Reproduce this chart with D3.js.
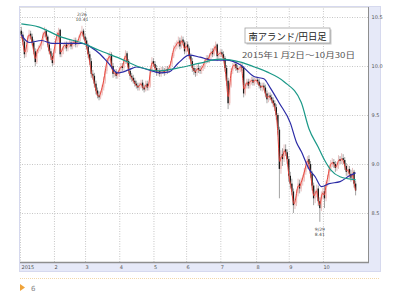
<!DOCTYPE html>
<html>
<head>
<meta charset="utf-8">
<script src="https://cdn.jsdelivr.net/npm/d3@7"></script>
<style>
body { margin: 0; background: #fff; }
svg { display: block; }
.jp { font-family: "Noto Sans CJK JP", "Noto Sans CJK SC", "Noto Sans", sans-serif; }
</style>
</head>
<body>
<div id="chart"></div>
<script>
// ZAR/JPY daily candles, 2015-01-02 .. 2015-10-30 (one value per trading day)
var firstOpen = 10.36;
var closes = [10.32,
    10.25,10.12,10.16,10.28,10.33,
    10.30,10.24,10.15,10.04,10.15,
    10.18,10.20,10.24,10.32,10.36,
    10.30,10.22,10.15,10.10,10.03,
    10.15,10.25,10.32,10.37,10.12,
    10.15,10.20,10.22,10.18,10.22,
    10.24,10.20,10.23,10.26,10.22,
    10.24,10.28,10.33,10.36,10.30,
    10.26,10.20,10.12,10.05,9.92,
    9.90,9.82,9.75,9.70,9.68,
    9.72,9.78,9.85,9.95,10.05,
    10.08,10.12,10.00,9.92,9.94,
    9.90,9.92,9.96,10.00,9.98,
    10.05,10.13,10.05,9.95,9.90,
    9.88,9.85,9.82,9.80,9.78,
    9.80,9.83,9.78,9.76,9.82,
    9.78,9.80,9.95,10.05,10.02,
    9.98,9.93,9.95,9.92,9.96,
    9.95,9.93,9.97,9.95,9.98,
    10.02,10.10,10.18,10.20,10.22,
    10.26,10.20,10.27,10.24,10.15,
    10.22,10.18,10.10,10.05,9.98,
    9.95,9.93,9.98,9.96,9.95,
    9.98,10.00,10.05,10.08,10.06,
    10.10,10.15,10.12,10.18,10.22,
    10.10,10.12,10.14,10.12,10.08,
    9.98,9.85,9.62,9.80,9.95,
    10.00,10.02,9.98,9.96,9.97,
    10.00,9.98,9.72,9.80,9.84,
    9.80,9.84,9.86,9.83,9.85,
    9.86,9.84,9.80,9.78,9.80,
    9.78,9.72,9.66,9.70,9.68,
    9.65,9.62,9.58,9.50,9.35,
    8.95,9.10,9.05,9.15,9.12,
    9.05,8.88,8.80,8.72,8.58,
    8.60,8.70,8.80,8.75,8.82,
    8.85,8.92,8.98,9.05,9.00,
    8.90,8.78,8.65,8.70,8.75,
    8.62,8.55,8.68,8.72,8.65,
    8.80,8.85,8.95,9.00,9.02,
    9.00,8.96,8.98,9.05,9.03,
    9.06,9.04,8.98,8.92,8.95,
    8.90,8.86,8.92,8.80,8.73];

var highs = [10.40,
    10.35,10.27,10.19,10.31,10.37,
    10.36,10.33,10.27,10.18,10.17,
    10.21,10.23,10.27,10.35,10.40,
    10.38,10.32,10.25,10.18,10.13,
    10.17,10.28,10.35,10.39,10.38,
    10.18,10.23,10.25,10.25,10.25,
    10.27,10.27,10.26,10.29,10.29,
    10.27,10.31,10.36,10.41,10.38,
    10.33,10.29,10.23,10.15,10.08,
    9.96,9.93,9.85,9.78,9.74,
    9.75,9.81,9.89,9.98,10.08,
    10.12,10.15,10.14,10.03,9.97,
    9.97,9.95,9.99,10.03,10.03,
    10.08,10.16,10.15,10.07,9.98,
    9.93,9.91,9.88,9.85,9.83,
    9.83,9.86,9.86,9.81,9.85,
    9.85,9.83,9.98,10.09,10.08,
    10.05,10.01,9.98,9.98,9.99,
    9.99,9.98,10.00,10.00,10.01,
    10.05,10.13,10.21,10.24,10.26,
    10.30,10.29,10.31,10.30,10.26,
    10.25,10.25,10.20,10.13,10.08,
    10.01,9.98,10.01,10.02,10.00,
    10.01,10.03,10.08,10.11,10.11,
    10.13,10.18,10.18,10.21,10.25,
    10.23,10.15,10.17,10.17,10.15,
    10.10,10.01,9.88,9.83,9.98,
    10.03,10.05,10.05,10.01,10.00,
    10.03,10.03,10.00,9.83,9.87,
    9.87,9.87,9.89,9.89,9.88,
    9.89,9.89,9.87,9.83,9.83,
    9.83,9.81,9.75,9.73,9.73,
    9.71,9.68,9.65,9.61,9.52,
    9.38,9.14,9.16,9.20,9.20,
    9.15,9.08,8.92,8.85,8.75,
    8.65,8.74,8.85,8.84,8.86,
    8.89,8.96,9.02,9.08,9.09,
    9.03,8.93,8.81,8.74,8.79,
    8.78,8.66,8.72,8.76,8.78,
    8.83,8.89,8.99,9.04,9.06,
    9.05,9.03,9.02,9.09,9.08,
    9.11,9.10,9.07,9.01,8.99,
    8.98,8.94,8.96,8.94,8.83];

var lows = [10.28,
    10.21,10.08,10.09,10.14,10.25,
    10.27,10.21,10.12,10.00,10.02,
    10.13,10.15,10.17,10.21,10.29,
    10.27,10.19,10.12,10.06,10.00,
    10.01,10.13,10.22,10.29,10.09,
    10.09,10.12,10.17,10.15,10.15,
    10.19,10.17,10.17,10.20,10.19,
    10.19,10.21,10.25,10.30,10.27,
    10.22,10.17,10.08,10.01,9.88,
    9.86,9.78,9.71,9.67,9.65,
    9.66,9.70,9.75,9.82,9.92,
    10.02,10.05,9.97,9.88,9.89,
    9.87,9.87,9.89,9.93,9.95,
    9.95,10.02,10.02,9.92,9.86,
    9.84,9.82,9.79,9.77,9.75,
    9.75,9.77,9.75,9.73,9.74,
    9.75,9.75,9.78,9.93,9.99,
    9.95,9.90,9.90,9.89,9.89,
    9.92,9.90,9.91,9.92,9.93,
    9.96,10.00,10.08,10.15,10.17,
    10.19,10.17,10.18,10.21,10.12,
    10.13,10.15,10.07,10.01,9.94,
    9.91,9.89,9.90,9.93,9.92,
    9.92,9.95,9.97,10.02,10.03,
    10.03,10.07,10.09,10.10,10.15,
    10.05,10.07,10.09,10.09,10.05,
    9.94,9.80,9.56,9.60,9.78,
    9.92,9.97,9.95,9.93,9.93,
    9.94,9.95,9.68,9.70,9.77,
    9.77,9.77,9.81,9.80,9.80,
    9.82,9.81,9.77,9.75,9.74,
    9.75,9.68,9.62,9.63,9.65,
    9.62,9.58,9.54,9.45,9.30,
    8.65,8.90,8.98,9.02,9.08,
    9.00,8.82,8.75,8.68,8.50,
    8.54,8.57,8.67,8.70,8.72,
    8.78,8.82,8.89,8.95,8.96,
    8.86,8.73,8.58,8.60,8.66,
    8.57,8.41,8.52,8.64,8.55,
    8.62,8.77,8.82,8.92,8.97,
    8.96,8.92,8.93,8.95,9.00,
    9.00,9.00,8.94,8.88,8.87,
    8.86,8.82,8.83,8.76,8.68];

// moving averages
var ma25 = [
    ["2015-01-02",10.32],["2015-01-09",10.24],["2015-01-21",10.26],["2015-01-30",10.23],
    ["2015-02-11",10.23],["2015-02-26",10.23],["2015-03-06",10.19],["2015-03-13",10.13],
    ["2015-03-23",10.03],["2015-03-31",9.93],["2015-04-09",9.96],["2015-04-16",9.99],
    ["2015-04-28",9.96],["2015-05-07",9.93],["2015-05-15",9.94],["2015-05-25",10.03],
    ["2015-06-03",10.11],["2015-06-12",10.09],["2015-06-24",10.06],["2015-07-07",10.06],
    ["2015-07-20",10.01],["2015-07-31",9.89],["2015-08-10",9.87],["2015-08-14",9.78],
    ["2015-08-24",9.62],["2015-09-02",9.42],["2015-09-08",9.22],["2015-09-11",9.13],
    ["2015-09-18",8.95],["2015-09-24",8.87],["2015-09-30",8.77],["2015-10-07",8.80],
    ["2015-10-16",8.82],["2015-10-26",8.88],["2015-10-30",8.91]
];
var ma75 = [
    ["2015-01-02",10.43],["2015-01-19",10.40],["2015-02-06",10.30],["2015-02-27",10.23],
    ["2015-03-13",10.16],["2015-04-01",10.08],["2015-04-20",9.99],["2015-05-07",9.95],
    ["2015-05-25",9.98],["2015-06-12",10.03],["2015-07-01",10.07],["2015-07-20",10.04],
    ["2015-07-31",9.99],["2015-08-12",9.94],["2015-08-27",9.84],["2015-09-11",9.63],
    ["2015-09-18",9.36],["2015-09-28",9.17],["2015-10-02",9.04],["2015-10-08",8.94],
    ["2015-10-16",8.87],["2015-10-30",8.84]
];

var yTicks = [10.5, 10.0, 9.5, 9.0, 8.5];
var monthLabels = ["2015", "2", "3", "4", "5", "6", "7", "8", "9", "10"];
var title = "南アランド/円日足";
var subtitle = "2015年1 月2日〜10月30日";
var pageNo = "6";

var W = 400, H = 300;
var plot = {left: 20, right: 368, top: 7, bottom: 262};

var dates = d3.timeDay.range(new Date(2015, 0, 2), new Date(2015, 9, 31))
    .filter(d => d.getDay() !== 0 && d.getDay() !== 6);
var key = d3.timeFormat("%Y-%m-%d");
var indexOf = {};
dates.forEach((d, i) => { indexOf[key(d)] = i; });

var n = Math.min(dates.length, closes.length, highs.length, lows.length);
var candles = [];
for (var i = 0; i < n; i++) {
    candles.push({i: i, o: i === 0 ? firstOpen : closes[i - 1], h: highs[i], l: lows[i], c: closes[i]});
}

var monthStarts = [];
for (var k = 0; k < n; k++) {
    if (k === 0 || dates[k].getMonth() !== dates[k - 1].getMonth()) monthStarts.push(k);
}

var xScale = d3.scaleLinear().domain([0, 215]).range([21.3, 355.6]);
var yScale = d3.scaleLinear().domain([8, 10.5]).range([plot.bottom, 17]);

var svg = d3.select("#chart").append("svg")
    .attr("width", W).attr("height", H)
    .style("font-family", "'DejaVu Sans', sans-serif");

// frame
svg.append("rect")
    .attr("x", 19.5).attr("y", 6.5).attr("width", 361).attr("height", 265)
    .attr("fill", "#e6e9f8").attr("stroke", "#d6d9ee");
svg.append("rect")
    .attr("x", plot.left).attr("y", plot.top)
    .attr("width", plot.right - plot.left).attr("height", plot.bottom - plot.top)
    .attr("fill", "#fff");

// grid
var gy = svg.append("g")
    .attr("transform", "translate(" + plot.right + ",0)")
    .call(d3.axisLeft(yScale).tickValues(yTicks).tickSize(plot.right - plot.left).tickFormat(""));
var gx = svg.append("g")
    .attr("transform", "translate(0," + plot.bottom + ")")
    .call(d3.axisTop(xScale).tickValues(monthStarts.slice(1)).tickSize(plot.bottom - plot.top).tickFormat(""));
[gx, gy].forEach(g => {
    g.select(".domain").remove();
    g.selectAll("line").attr("stroke", "#b8b8b8").attr("stroke-dasharray", "1,1.5").attr("stroke-width", 0.8);
});
svg.append("line")
    .attr("x1", plot.left + 0.5).attr("x2", plot.left + 0.5)
    .attr("y1", plot.top).attr("y2", plot.bottom)
    .attr("stroke", "#c8c8c8").attr("stroke-dasharray", "1,1.5");
svg.append("line")
    .attr("x1", plot.left).attr("x2", plot.right)
    .attr("y1", plot.top + 0.5).attr("y2", plot.top + 0.5)
    .attr("stroke", "#e2e2e2");

// candles
var cg = svg.append("g");
cg.selectAll(".wick").data(candles).enter().append("line")
    .attr("x1", d => xScale(d.i)).attr("x2", d => xScale(d.i))
    .attr("y1", d => yScale(d.h)).attr("y2", d => yScale(d.l))
    .attr("stroke", d => d.c >= d.o ? "#e0b0b0" : "#8c8c8c")
    .attr("stroke-width", 0.8);
cg.selectAll(".body").data(candles).enter().append("rect")
    .attr("x", d => xScale(d.i) - 0.7)
    .attr("width", 1.4)
    .attr("y", d => yScale(Math.max(d.o, d.c)))
    .attr("height", d => Math.max(0.6, Math.abs(yScale(d.o) - yScale(d.c))))
    .attr("fill", d => d.c >= d.o ? "#f3bdb8" : "#1a1a1a");

// lines
var closeLine = d3.line()
    .x(d => xScale(d.i))
    .y(d => yScale(d.c))
    .curve(d3.curveBasis);
svg.append("path").datum(candles)
    .attr("fill", "none").attr("stroke", "#e8453c").attr("stroke-width", 1)
    .attr("d", closeLine);

var maLine = d3.line()
    .x(d => xScale(indexOf[d[0]]))
    .y(d => yScale(d[1]))
    .curve(d3.curveMonotoneX);
svg.append("path").datum(ma25)
    .attr("fill", "none").attr("stroke", "#2b2ba6").attr("stroke-width", 1.2)
    .attr("d", maLine);
svg.append("path").datum(ma75)
    .attr("fill", "none").attr("stroke", "#1b9988").attr("stroke-width", 1.2)
    .attr("d", maLine);

// plot border
svg.append("line")
    .attr("x1", plot.right + 0.5).attr("x2", plot.right + 0.5)
    .attr("y1", plot.top).attr("y2", plot.bottom + 1)
    .attr("stroke", "#8e8e8e");
svg.append("line")
    .attr("x1", plot.left).attr("x2", plot.right + 1)
    .attr("y1", plot.bottom + 0.5).attr("y2", plot.bottom + 0.5)
    .attr("stroke", "#8e8e8e").attr("stroke-width", 1.5);

// axis labels
svg.append("g").selectAll("text").data(yTicks).enter().append("text")
    .attr("x", plot.right + 3.5)
    .attr("y", d => yScale(d) + 2)
    .style("font-size", "5px").attr("fill", "#555")
    .text(d => d.toFixed(1));
svg.append("g").selectAll("text").data(monthStarts).enter().append("text")
    .attr("x", (d, i) => i === 0 ? plot.left + 1.5 : xScale(d) + 0.5)
    .attr("y", plot.bottom + 7)
    .style("font-size", "5px").attr("fill", "#555")
    .text((d, i) => monthLabels[i]);

// high / low notes
var fmtDate = d3.timeFormat("%-m/%-d");
var hi = d3.maxIndex(highs.slice(0, n));
var lo = d3.minIndex(lows.slice(0, n));
[[hi, highs[hi], -13], [lo, lows[lo], 6]].forEach(function(a) {
    var t = svg.append("text")
        .attr("x", xScale(a[0]))
        .attr("y", yScale(a[1]) + a[2])
        .style("font-size", "4.5px").attr("fill", "#444")
        .style("text-anchor", "middle");
    t.append("tspan").attr("x", xScale(a[0])).attr("dy", "0.8em").text(fmtDate(dates[a[0]]));
    t.append("tspan").attr("x", xScale(a[0])).attr("dy", "1.1em").text(a[1].toFixed(2));
});

// title box
svg.append("rect")
    .attr("x", 246.5).attr("y", 29.5).attr("width", 85).attr("height", 15)
    .attr("fill", "#c8c8c8");
svg.append("rect")
    .attr("x", 245).attr("y", 28).attr("width", 85).attr("height", 15)
    .attr("fill", "#fff").attr("stroke", "#a0a0a0").attr("stroke-width", 0.8);
svg.append("text")
    .attr("class", "jp")
    .attr("x", 248.5).attr("y", 39.5)
    .attr("textLength", 78).attr("lengthAdjust", "spacingAndGlyphs")
    .style("font-size", "9.5px").attr("fill", "#222")
    .text(title);
svg.append("text")
    .attr("class", "jp")
    .attr("x", 242).attr("y", 57.5)
    .attr("textLength", 113).attr("lengthAdjust", "spacingAndGlyphs")
    .style("font-size", "7.5px").attr("fill", "#555")
    .text(subtitle);

// footer
svg.append("line")
    .attr("x1", 20).attr("x2", 380)
    .attr("y1", 278.5).attr("y2", 278.5)
    .attr("stroke", "#f3d8a8").attr("stroke-dasharray", "1,1");
svg.append("path")
    .attr("d", "M20,284 L25,287.5 L20,291 Z")
    .attr("fill", "#f0a33a");
svg.append("text")
    .attr("x", 31).attr("y", 290.5)
    .style("font-size", "7px").attr("fill", "#888")
    .text(pageNo);
</script>
</body>
</html>
